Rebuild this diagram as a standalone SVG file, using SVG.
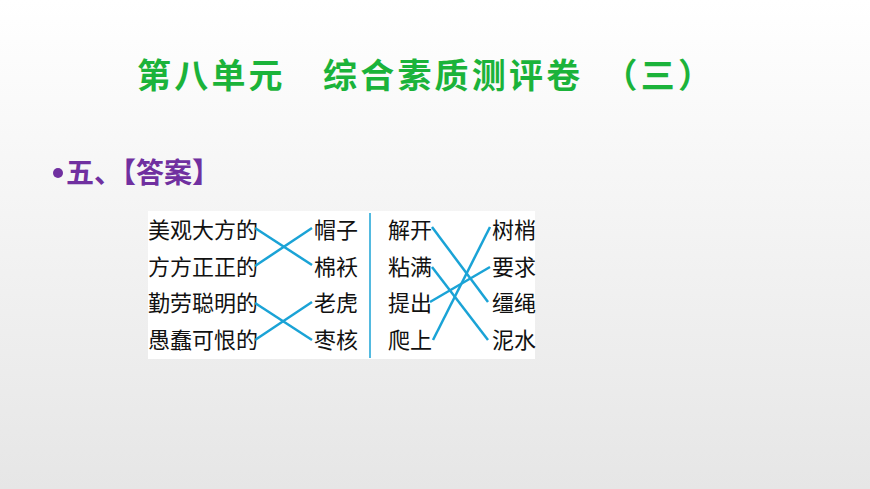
<svg xmlns="http://www.w3.org/2000/svg" width="870" height="489" viewBox="0 0 870 489">
<defs><linearGradient id="bg" x1="0" y1="0" x2="0" y2="1"><stop offset="0" stop-color="#ffffff"/><stop offset="1" stop-color="#e6e6e6"/></linearGradient></defs>
<style>
.t{font-family:"Noto Sans CJK SC",sans-serif;font-size:22px;fill:#111}
.c line{stroke:#1aa3d6;stroke-width:2.5}
</style>
<rect width="870" height="489" fill="url(#bg)"/>
<text x="137" y="88" textLength="575" lengthAdjust="spacing" font-family="Noto Sans CJK SC,sans-serif" font-weight="bold" font-size="34" fill="#1bb33a" xml:space="preserve">第八单元　综合素质测评卷　（三）</text>
<circle cx="58" cy="173" r="5" fill="#7030a0"/>
<text x="66" y="183" font-family="Noto Sans CJK SC,sans-serif" font-weight="bold" font-size="28" fill="#7030a0">五、【答案】</text>
<rect x="148" y="211" width="387" height="148" fill="#fff"/>
<line x1="370" y1="213" x2="370" y2="358" stroke="#1aa3d6" stroke-width="1.5"/>
<g id="left">
<text class="t" x="148" y="238">美观大方的</text>
<text class="t" x="148" y="275">方方正正的</text>
<text class="t" x="148" y="311">勤劳聪明的</text>
<text class="t" x="148" y="348">愚蠢可恨的</text>
<text class="t" x="314" y="238">帽子</text>
<text class="t" x="314" y="275">棉袄</text>
<text class="t" x="314" y="311">老虎</text>
<text class="t" x="314" y="348">枣核</text>
</g>
<g id="right">
<text class="t" x="388" y="238">解开</text>
<text class="t" x="388" y="275">粘满</text>
<text class="t" x="388" y="311">提出</text>
<text class="t" x="388" y="348">爬上</text>
<text class="t" x="492" y="238">树梢</text>
<text class="t" x="492" y="275">要求</text>
<text class="t" x="492" y="311">缰绳</text>
<text class="t" x="492" y="348">泥水</text>
</g>
<g class="c" id="connectors">
<line x1="255" y1="228" x2="312" y2="265"/>
<line x1="255" y1="266" x2="312" y2="228"/>
<line x1="255" y1="303" x2="312" y2="340"/>
<line x1="255" y1="340" x2="312" y2="302"/>
<line x1="432" y1="227" x2="488" y2="302"/>
<line x1="432" y1="267" x2="488" y2="340"/>
<line x1="430" y1="302" x2="490" y2="267"/>
<line x1="433" y1="340" x2="490" y2="227"/>
</g>
</svg>
